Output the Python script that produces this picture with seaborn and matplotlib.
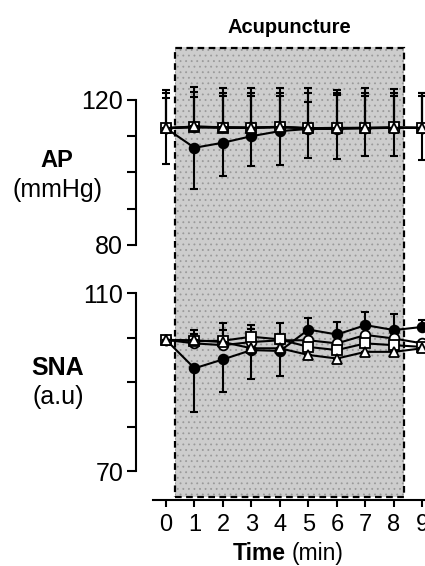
import matplotlib
matplotlib.use("Agg")
import matplotlib.pyplot as plt
from matplotlib.patches import Rectangle
import seaborn as sns

# %% data
time_min = [0, 1, 2, 3, 4, 5, 6, 7, 8, 9]

# AP (mmHg)
ap_filled = [112.2, 106.8, 108.2, 110.0, 111.4, 112.0, 112.0, 112.2, 112.3, 112.3]
ap_filled_lo = [9.9, 11.4, 9.1, 8.2, 9.4, 8.0, 8.3, 7.8, 7.7, 9.0]
ap_circle = [112.3, 112.6, 112.5, 112.4, 112.6, 112.2, 112.2, 112.3, 112.4, 112.3]
ap_circle_up = [10.3, 11.1, 10.7, 10.8, 10.6, 11.0, 10.4, 10.9, 10.5, 9.5]
ap_square = [112.2, 112.4, 112.3, 112.3, 112.5, 112.2, 112.3, 112.3, 112.4, 112.3]
ap_square_up = [9.6, 9.9, 9.5, 9.5, 9.3, 9.6, 9.5, 9.5, 9.4, 9.5]
ap_triangle = [112.2, 112.7, 112.4, 112.3, 112.5, 112.2, 112.2, 112.2, 112.3, 112.3]
ap_triangle_up = [8.3, 8.2, 8.6, 8.7, 8.5, 7.3, 9.1, 8.8, 8.7, 8.7]

# SNA (a.u)
sna_filled = [99.5, 93.1, 95.1, 97.2, 97.0, 101.8, 100.7, 102.8, 101.7, 102.4]
sna_filled_lo = [0, 9.8, 7.3, 6.6, 5.6, 0, 0, 0, 0, 0]
sna_filled_up = [0, 0, 0, 0, 0, 2.5, 2.9, 3.0, 3.7, 1.5]
sna_circle = [99.5, 98.7, 98.3, 99.0, 99.4, 99.4, 98.7, 100.6, 99.8, 98.7]
sna_circle_up = [0, 3.0, 4.9, 3.8, 3.8, 0, 0, 0, 0, 0]
sna_square = [99.5, 99.2, 99.3, 100.2, 99.6, 97.9, 97.2, 98.7, 98.3, 97.9]
sna_square_up = [0, 1.5, 2.5, 1.8, 0, 0, 0, 0, 0, 0]
sna_triangle = [99.5, 99.4, 99.0, 97.6, 97.6, 96.1, 95.3, 96.8, 96.8, 97.6]

acu_start, acu_end = 0.32, 8.35

# %% style
sns.set_style("ticks")
plt.rcParams["font.family"] = ["Liberation Sans", "DejaVu Sans"]
plt.rcParams["hatch.linewidth"] = 0.6
for key in ["text.color", "axes.labelcolor", "xtick.color", "ytick.color", "axes.edgecolor"]:
    plt.rcParams[key] = "black"

fig = plt.figure(figsize=(4.25, 5.66), dpi=100)
ax_ap = fig.add_axes([0.36, 0.523, 0.64, 0.394])
ax_sna = fig.add_axes([0.36, 0.1166, 0.64, 0.4064])
ax_sna.patch.set_visible(False)
ax_ap.patch.set_visible(False)

xlim = (-0.456, 9.09)
lw = 1.5


def draw_series(ax, y, lo, up, marker, filled, z):
    if lo is None:
        lo = [0] * len(y)
    if up is None:
        up = [0] * len(y)
    ax.errorbar(time_min, y, yerr=[lo, up], fmt="none", ecolor="black",
                elinewidth=lw, capsize=3, capthick=lw, zorder=z)
    sns.lineplot(x=time_min, y=y, ax=ax, color="black", linewidth=lw,
                 marker=marker, markersize=7 if marker != "s" else 6.5,
                 markerfacecolor="black" if filled else "white",
                 markeredgecolor="black", markeredgewidth=1.3, zorder=z + 0.5)


# %% AP panel
draw_series(ax_ap, ap_filled, ap_filled_lo, None, "o", True, 3)
draw_series(ax_ap, ap_circle, None, ap_circle_up, "o", False, 4)
draw_series(ax_ap, ap_square, None, ap_square_up, "s", False, 5)
draw_series(ax_ap, ap_triangle, None, ap_triangle_up, "^", False, 6)

ax_ap.set_xlim(xlim)
ax_ap.set_ylim(73.1, 134.6)
ax_ap.set_yticks([80, 90, 100, 110, 120])
ax_ap.set_yticklabels(["80", "", "", "", "120"])
ax_ap.spines["left"].set_bounds(80, 120)
for s in ["top", "right", "bottom"]:
    ax_ap.spines[s].set_visible(False)
ax_ap.set_xticks([])

# shaded acupuncture period, spanning both panels
ybot = 10.5
ax_ap.add_patch(Rectangle((acu_start, ybot), acu_end - acu_start, 134.6 - ybot,
                          facecolor="#cdcdcd", edgecolor="#9a9a9a", hatch="...",
                          linewidth=0, clip_on=False, zorder=0))
ax_ap.add_patch(Rectangle((acu_start, ybot), acu_end - acu_start, 134.6 - ybot - 0.4,
                          fill=False, edgecolor="black", linestyle=(0, (3, 2)),
                          linewidth=1.6, clip_on=False, zorder=1))

# %% SNA panel
draw_series(ax_sna, sna_filled, sna_filled_lo, sna_filled_up, "o", True, 3)
draw_series(ax_sna, sna_circle, None, sna_circle_up, "o", False, 4)
draw_series(ax_sna, sna_square, None, sna_square_up, "s", False, 5)
draw_series(ax_sna, sna_triangle, None, None, "^", False, 6)

ax_sna.set_xlim(xlim)
ax_sna.set_ylim(63.5, 115.2)
ax_sna.set_yticks([70, 80, 90, 100, 110])
ax_sna.set_yticklabels(["70", "", "", "", "110"])
ax_sna.spines["left"].set_bounds(70, 110)
ax_sna.set_xticks(time_min)
ax_sna.set_xticklabels([str(t) for t in time_min])
for s in ["top", "right"]:
    ax_sna.spines[s].set_visible(False)

for ax in (ax_ap, ax_sna):
    ax.spines["left"].set_position(("outward", 12))
    ax.spines["left"].set_linewidth(lw)
    ax.spines["bottom"].set_linewidth(lw)
    ax.tick_params(axis="y", direction="out", length=6.5, width=lw,
                   labelsize=18, pad=3)
    ax.tick_params(axis="x", direction="out", length=5, width=lw,
                   labelsize=17, pad=5)
    ax.set_xlabel("")
    ax.set_ylabel("")

# %% labels
fig.text(0.134, 0.717, "AP", fontsize=17, fontweight="bold", ha="center", va="center")
fig.text(0.136, 0.664, "(mmHg)", fontsize=18, ha="center", va="center")
fig.text(0.136, 0.350, "SNA", fontsize=18, fontweight="bold", ha="center", va="center")
fig.text(0.136, 0.299, "(a.u)", fontsize=18, ha="center", va="center")
fig.text(0.682, 0.951, "Acupuncture", fontsize=14.5, fontweight="bold", ha="center", va="center")
fig.text(0.673, 0.022, "Time", fontsize=16.5, fontweight="bold", ha="right", va="center")
fig.text(0.686, 0.022, "(min)", fontsize=16.5, ha="left", va="center")

fig.savefig("out.png", dpi=100)
